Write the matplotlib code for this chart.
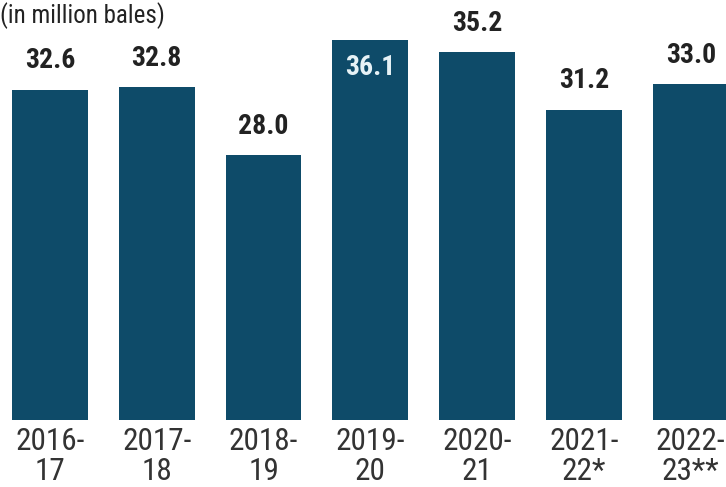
import matplotlib.pyplot as plt
from matplotlib import font_manager as fm

names = {f.name for f in fm.fontManager.ttflist}
cands = [n for n in ['Liberation Sans Narrow', 'DejaVu Sans Condensed', 'Roboto Condensed',
                     'Open Sans Condensed', 'Noto Sans Condensed'] if n in names]
narrow = [cands[0], 'DejaVu Sans'] if cands else ['DejaVu Sans']
stretch = 'normal' if cands else 'condensed'

categories = ["2016-\n17", "2017-\n18", "2018-\n19", "2019-\n20", "2020-\n21", "2021-\n22*", "2022-\n23**"]
values = [32.6, 32.8, 28.0, 36.1, 35.2, 31.2, 33.0]
inside = [False, False, False, True, False, False, False]

bar_color = "#0e4b69"

fig = plt.figure(figsize=(7.26, 4.87), dpi=100)
ax = fig.add_axes([0, 67/487, 1, 420/487])
x = list(range(len(values)))
ax.bar(x, values, width=0.71, color=bar_color)
ax.set_xlim(-0.468, 6.33)
ax.set_ylim(9.5, 38.87)
for s in ax.spines.values():
    s.set_visible(False)
ax.set_yticks([])
ax.set_xticks(x)
ax.set_xticklabels(categories, fontsize=22.5, family=narrow, fontstretch=stretch,
                   color="#333333", linespacing=1.03)
ax.tick_params(axis='x', length=0, pad=5)

for xi, v, ins in zip(x, values, inside):
    if ins:
        ax.annotate(f"{v:.1f}", (xi, v), xytext=(0, -10), textcoords='offset points',
                    ha='center', va='top', fontsize=20, fontweight='bold', family=narrow,
                    fontstretch=stretch, color="#e6f2f6")
    else:
        ax.annotate(f"{v:.1f}", (xi, v), xytext=(0, 11), textcoords='offset points',
                    ha='center', va='bottom', fontsize=20, fontweight='bold', family=narrow,
                    fontstretch=stretch, color="#222222")

fig.text(0.0, 1 - 23/487, "(in million bales)", ha='left', va='baseline', fontsize=18,
         family=narrow, fontstretch=stretch, color="#222222")

fig.savefig("out.png", dpi=100)
